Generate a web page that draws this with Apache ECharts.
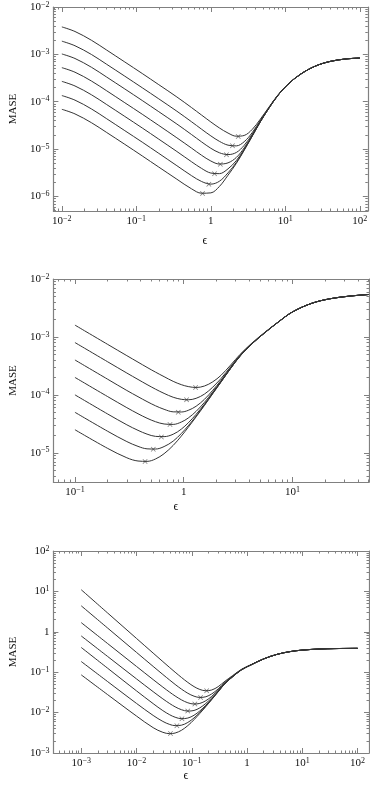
<!DOCTYPE html>
<html>
<head>
<meta charset="utf-8">
<script src="https://cdn.jsdelivr.net/npm/echarts@6/dist/echarts.min.js"></script>
<style>
  html, body { margin: 0; padding: 0; background: #fff; }
  #chart { width: 370px; height: 787px; }
</style>
</head>
<body>
<div id="chart"></div>
<script>
// ---- top panel ----
var eps1 = [0.01, 0.015, 0.025, 0.04, 0.07, 0.12, 0.2, 0.35, 0.55, 0.75, 1, 1.3, 1.7, 2.2, 2.8, 3.6, 4.6, 6, 8, 11, 16, 25, 40, 65, 100];
var mase1 = [
  [3.8e-3, 3.04e-3, 1.98e-3, 1.23e-3, 6.9e-4, 3.94e-4, 2.29e-4, 1.26e-4, 7.53e-5, 5.23e-5, 3.74e-5, 2.80e-5, 2.18e-5, 1.87e-5, 1.94e-5, 2.61e-5, 4.26e-5, 7.62e-5, 1.41e-4, 2.40e-4, 3.82e-4, 5.61e-4, 7.10e-4, 8.0e-4, 8.35e-4],
  [1.90e-3, 1.52e-3, 9.92e-4, 6.16e-4, 3.46e-4, 1.97e-4, 1.15e-4, 6.30e-5, 3.78e-5, 2.63e-5, 1.90e-5, 1.46e-5, 1.21e-5, 1.17e-5, 1.43e-5, 2.24e-5, 3.99e-5, 7.43e-5, 1.39e-4, 2.39e-4, 3.81e-4, 5.61e-4, 7.10e-4, 8.0e-4, 8.35e-4],
  [1.02e-3, 8.18e-4, 5.33e-4, 3.31e-4, 1.86e-4, 1.06e-4, 6.16e-5, 3.38e-5, 2.03e-5, 1.42e-5, 1.04e-5, 8.37e-6, 7.65e-6, 8.49e-6, 1.20e-5, 2.07e-5, 3.86e-5, 7.34e-5, 1.38e-4, 2.38e-4, 3.81e-4, 5.61e-4, 7.10e-4, 8.0e-4, 8.35e-4],
  [5.24e-4, 4.20e-4, 2.73e-4, 1.70e-4, 9.52e-5, 5.44e-5, 3.16e-5, 1.73e-5, 1.05e-5, 7.41e-6, 5.60e-6, 4.84e-6, 5.12e-6, 6.67e-6, 1.06e-5, 1.97e-5, 3.79e-5, 7.29e-5, 1.38e-4, 2.38e-4, 3.81e-4, 5.61e-4, 7.10e-4, 8.0e-4, 8.35e-4],
  [2.69e-4, 2.15e-4, 1.40e-4, 8.71e-5, 4.89e-5, 2.79e-5, 1.62e-5, 8.89e-6, 5.41e-6, 3.91e-6, 3.12e-6, 3.03e-6, 3.83e-6, 5.73e-6, 9.94e-6, 1.92e-5, 3.76e-5, 7.27e-5, 1.38e-4, 2.38e-4, 3.81e-4, 5.61e-4, 7.10e-4, 8.0e-4, 8.35e-4],
  [1.35e-4, 1.08e-4, 7.03e-5, 4.37e-5, 2.45e-5, 1.40e-5, 8.13e-6, 4.46e-6, 2.75e-6, 2.07e-6, 1.82e-6, 2.09e-6, 3.15e-6, 5.24e-6, 9.58e-6, 1.90e-5, 3.74e-5, 7.25e-5, 1.38e-4, 2.38e-4, 3.81e-4, 5.61e-4, 7.10e-4, 8.0e-4, 8.35e-4],
  [6.92e-5, 5.53e-5, 3.60e-5, 2.24e-5, 1.26e-5, 7.17e-6, 4.17e-6, 2.31e-6, 1.45e-6, 1.17e-6, 1.19e-6, 1.62e-6, 2.81e-6, 5.00e-6, 9.41e-6, 1.88e-5, 3.73e-5, 7.25e-5, 1.38e-4, 2.38e-4, 3.81e-4, 5.61e-4, 7.10e-4, 8.0e-4, 8.35e-4]
];
var minEps1 = [2.33, 1.95, 1.62, 1.34, 1.12, 0.94, 0.773];
var minMase1 = [1.84e-5, 1.17e-5, 7.6e-6, 4.8e-6, 3.0e-6, 1.82e-6, 1.15e-6];
var xTicks1 = [1e-2, 1e-1, 1, 10, 100];
var yTicks1 = [1e-6, 1e-5, 1e-4, 1e-3, 1e-2];

// ---- middle panel ----
var eps2 = [0.1, 0.2, 0.3, 0.38, 0.46, 0.55, 0.66, 0.8, 0.95, 1.1, 1.3, 1.55, 1.85, 2.2, 2.7, 3.3, 4.2, 5.5, 7.5, 10, 15, 22, 33, 50];
var mase2 = [
  [1.6e-3, 7.43e-4, 4.75e-4, 3.67e-4, 2.98e-4, 2.47e-4, 2.06e-4, 1.71e-4, 1.50e-4, 1.39e-4, 1.34e-4, 1.42e-4, 1.68e-4, 2.17e-4, 3.27e-4, 5.01e-4, 7.72e-4, 1.18e-3, 1.85e-3, 2.71e-3, 3.8e-3, 4.55e-3, 5.05e-3, 5.4e-3],
  [8.0e-4, 3.72e-4, 2.38e-4, 1.845e-4, 1.505e-4, 1.255e-4, 1.06e-4, 9.09e-5, 8.38e-5, 8.22e-5, 8.71e-5, 1.03e-4, 1.36e-4, 1.91e-4, 3.06e-4, 4.84e-4, 7.59e-4, 1.17e-3, 1.85e-3, 2.7e-3, 3.8e-3, 4.55e-3, 5.05e-3, 5.4e-3],
  [4.0e-4, 1.86e-4, 1.19e-4, 9.30e-5, 7.65e-5, 6.48e-5, 5.63e-5, 5.09e-5, 5.06e-5, 5.40e-5, 6.36e-5, 8.37e-5, 1.20e-4, 1.78e-4, 2.96e-4, 4.75e-4, 7.52e-4, 1.165e-3, 1.84e-3, 2.7e-3, 3.8e-3, 4.55e-3, 5.05e-3, 5.4e-3],
  [2.0e-4, 9.32e-5, 6.01e-5, 4.72e-5, 3.95e-5, 3.44e-5, 3.14e-5, 3.09e-5, 3.39e-5, 3.98e-5, 5.19e-5, 7.41e-5, 1.12e-4, 1.72e-4, 2.90e-4, 4.71e-4, 7.49e-4, 1.16e-3, 1.84e-3, 2.7e-3, 3.8e-3, 4.55e-3, 5.05e-3, 5.4e-3],
  [1.0e-4, 4.67e-5, 3.04e-5, 2.44e-5, 2.10e-5, 1.92e-5, 1.90e-5, 2.09e-5, 2.56e-5, 3.28e-5, 4.61e-5, 6.92e-5, 1.08e-4, 1.68e-4, 2.88e-4, 4.69e-4, 7.48e-4, 1.16e-3, 1.84e-3, 2.7e-3, 3.8e-3, 4.55e-3, 5.05e-3, 5.4e-3],
  [5.0e-5, 2.35e-5, 1.56e-5, 1.29e-5, 1.17e-5, 1.16e-5, 1.28e-5, 1.59e-5, 2.15e-5, 2.92e-5, 4.31e-5, 6.68e-5, 1.06e-4, 1.67e-4, 2.86e-4, 4.68e-4, 7.47e-4, 1.16e-3, 1.84e-3, 2.7e-3, 3.8e-3, 4.55e-3, 5.05e-3, 5.4e-3],
  [2.5e-5, 1.19e-5, 8.2e-6, 7.21e-6, 7.11e-6, 7.81e-6, 9.64e-6, 1.34e-5, 1.94e-5, 2.75e-5, 4.17e-5, 6.56e-5, 1.05e-4, 1.66e-4, 2.86e-4, 4.67e-4, 7.46e-4, 1.16e-3, 1.84e-3, 2.7e-3, 3.8e-3, 4.55e-3, 5.05e-3, 5.4e-3]
];
var minEps2 = [1.285, 1.062, 0.891, 0.748, 0.623, 0.525, 0.441];
var minMase2 = [1.34e-4, 8.2e-5, 5.0e-5, 3.07e-5, 1.88e-5, 1.15e-5, 7.07e-6];
var xTicks2 = [1e-1, 1, 10];
var yTicks2 = [1e-5, 1e-4, 1e-3, 1e-2];

// ---- bottom panel ----
var eps3 = [0.001, 0.003, 0.01, 0.02, 0.03, 0.04, 0.05, 0.065, 0.085, 0.11, 0.14, 0.18, 0.23, 0.3, 0.4, 0.55, 0.8, 1.2, 2, 3.5, 6, 10, 20, 40, 100];
var mase3 = [
  [11.0, 2.925, 0.6854, 0.2975, 0.183, 0.1299, 0.1, 0.0743, 0.0558, 0.044, 0.0374, 0.0347, 0.0363, 0.0438, 0.06, 0.0825, 0.1185, 0.1551, 0.2142, 0.2772, 0.3235, 0.3526, 0.3745, 0.3844, 0.3895],
  [4.4, 1.24, 0.3093, 0.1393, 0.0878, 0.0636, 0.0499, 0.0382, 0.0301, 0.0255, 0.0237, 0.0247, 0.029, 0.0385, 0.0564, 0.08, 0.117, 0.1542, 0.2137, 0.277, 0.3234, 0.3525, 0.3744, 0.3844, 0.3895],
  [1.69, 0.5128, 0.1389, 0.0657, 0.0428, 0.0319, 0.0258, 0.0207, 0.0175, 0.0163, 0.0169, 0.0197, 0.0253, 0.0359, 0.0545, 0.0788, 0.1162, 0.1538, 0.2134, 0.2768, 0.3233, 0.3525, 0.3744, 0.3844, 0.3895],
  [0.79, 0.2456, 0.0683, 0.033, 0.0219, 0.0167, 0.0139, 0.0118, 0.0109, 0.0113, 0.0131, 0.0169, 0.0231, 0.0342, 0.0534, 0.078, 0.1157, 0.1534, 0.2132, 0.2767, 0.3232, 0.3524, 0.3744, 0.3844, 0.3895],
  [0.41, 0.1257, 0.0345, 0.0167, 0.0112, 0.00883, 0.00768, 0.00707, 0.00733, 0.0086, 0.011, 0.0152, 0.0219, 0.0333, 0.0527, 0.0775, 0.1153, 0.1532, 0.2131, 0.2766, 0.3232, 0.3524, 0.3744, 0.3844, 0.3895],
  [0.184, 0.0587, 0.0169, 0.00852, 0.00605, 0.00508, 0.00476, 0.00488, 0.00571, 0.00739, 0.0101, 0.0145, 0.0214, 0.0329, 0.0524, 0.0773, 0.1152, 0.1531, 0.213, 0.2766, 0.3232, 0.3524, 0.3744, 0.3844, 0.3895],
  [0.086, 0.0279, 0.00822, 0.00424, 0.00325, 0.00301, 0.00312, 0.00364, 0.00477, 0.00668, 0.00953, 0.0141, 0.021, 0.0326, 0.0522, 0.0771, 0.1151, 0.153, 0.213, 0.2766, 0.3232, 0.3524, 0.3744, 0.3844, 0.3895]
];
var minEps3 = [0.186, 0.1445, 0.1138, 0.0846, 0.0665, 0.0538, 0.0412];
var minMase3 = [0.0347, 0.0237, 0.01625, 0.0109, 0.00705, 0.00473, 0.00305];
var xTicks3 = [1e-3, 1e-2, 1e-1, 1, 10, 100];
var yTicks3 = [1e-3, 1e-2, 1e-1, 1, 10, 100];

var ink = '#111';
var frameColor = '#808080';
var lineColor = '#333';
var serif = '"Liberation Serif", "DejaVu Serif", serif';

// panel frames (px) and axis ranges
var panels = [
  { eps: eps1, mase: mase1, minEps: minEps1, minMase: minMase1, xt: xTicks1, yt: yTicks1,
    xr: [0.0077, 128], yr: [4.93e-7, 1e-2], top: 7, height: 204, epsPos: [205, 241] },
  { eps: eps2, mase: mase2, minEps: minEps2, minMase: minMase2, xt: xTicks2, yt: yTicks2,
    xr: [0.0634, 50.5], yr: [3.13e-6, 1e-2], top: 279, height: 203, epsPos: [176, 507] },
  { eps: eps3, mase: mase3, minEps: minEps3, minMase: minMase3, xt: xTicks3, yt: yTicks3,
    xr: [3.14e-4, 161], yr: [1e-3, 100], top: 551, height: 202, epsPos: [186, 776] }
];

function powLabel(v) {
  var e = Math.round(Math.log(v) / Math.LN10);
  if (e === 0) return '{b|1}';
  return '{b|10}{s|' + (e < 0 ? '\u2212' + (-e) : e) + '}';
}

function minorTicks(range) {
  var lo = Math.floor(Math.log(range[0]) / Math.LN10);
  var hi = Math.ceil(Math.log(range[1]) / Math.LN10);
  var out = [];
  for (var e = lo; e <= hi; e++) {
    for (var m = 2; m <= 9; m++) out.push(m * Math.pow(10, e));
  }
  return out;
}

var labelRich = {
  b: { fontFamily: serif, fontSize: 11, color: ink, lineHeight: 13 },
  s: { fontFamily: serif, fontSize: 8, color: ink, verticalAlign: 'top', lineHeight: 8 }
};

function axis(g, pos, range, ticks, minor, withLabel, name) {
  var a = {
    type: 'log', gridIndex: g, position: pos, min: range[0], max: range[1],
    axisLine: { show: !minor, lineStyle: { color: frameColor, width: 1.2 } },
    axisTick: {
      show: true, inside: true, length: minor ? 2.5 : 5,
      customValues: minor ? minorTicks(range) : ticks,
      lineStyle: { color: frameColor, width: 1 }
    },
    axisLabel: { show: false },
    splitLine: { show: false },
    minorTick: { show: false }
  };
  if (withLabel) {
    a.axisLabel = { show: true, customValues: ticks, formatter: powLabel, margin: 4, rich: labelRich };
  }
  if (name) {
    a.name = name;
    a.nameLocation = 'middle';
    a.nameGap = 34;
    a.nameTextStyle = { fontFamily: serif, fontSize: 11, color: ink };
  }
  return a;
}

var grids = [], xAxes = [], yAxes = [], series = [], texts = [];
panels.forEach(function (p, g) {
  grids.push({ left: 40, width: 329, top: p.top, height: p.height });
  xAxes.push(axis(g, 'bottom', p.xr, p.xt, false, true));
  xAxes.push(axis(g, 'bottom', p.xr, p.xt, true, false));
  xAxes.push(axis(g, 'top', p.xr, p.xt, false, false));
  xAxes.push(axis(g, 'top', p.xr, p.xt, true, false));
  yAxes.push(axis(g, 'left', p.yr, p.yt, false, true, 'MASE'));
  yAxes.push(axis(g, 'left', p.yr, p.yt, true, false));
  yAxes.push(axis(g, 'right', p.yr, p.yt, false, false));
  yAxes.push(axis(g, 'right', p.yr, p.yt, true, false));

  p.mase.forEach(function (row) {
    series.push({
      type: 'line', xAxisIndex: 4 * g, yAxisIndex: 4 * g,
      data: p.eps.map(function (x, i) { return [x, row[i]]; }),
      showSymbol: false, smooth: 0.35, silent: true,
      lineStyle: { color: lineColor, width: 1 }
    });
  });
  series.push({
    type: 'scatter', xAxisIndex: 4 * g, yAxisIndex: 4 * g,
    data: p.minEps.map(function (x, i) { return [x, p.minMase[i]]; }),
    symbol: 'path://M0,1L1,0L5,4L9,0L10,1L6,5L10,9L9,10L5,6L1,10L0,9L4,5Z',
    symbolSize: 5, silent: true,
    itemStyle: { color: '#555' }
  });

  texts.push({
    type: 'text', x: p.epsPos[0], y: p.epsPos[1],
    style: { text: '\u03f5', font: '12px ' + serif, fill: ink,
             align: 'center', verticalAlign: 'middle', textAlign: 'center', textVerticalAlign: 'middle' }
  });
});

var chart = echarts.init(document.getElementById('chart'), null, { renderer: 'canvas' });
chart.setOption({
  animation: false,
  backgroundColor: '#fff',
  grid: grids,
  xAxis: xAxes,
  yAxis: yAxes,
  series: series,
  graphic: texts
});
</script>
</body>
</html>
